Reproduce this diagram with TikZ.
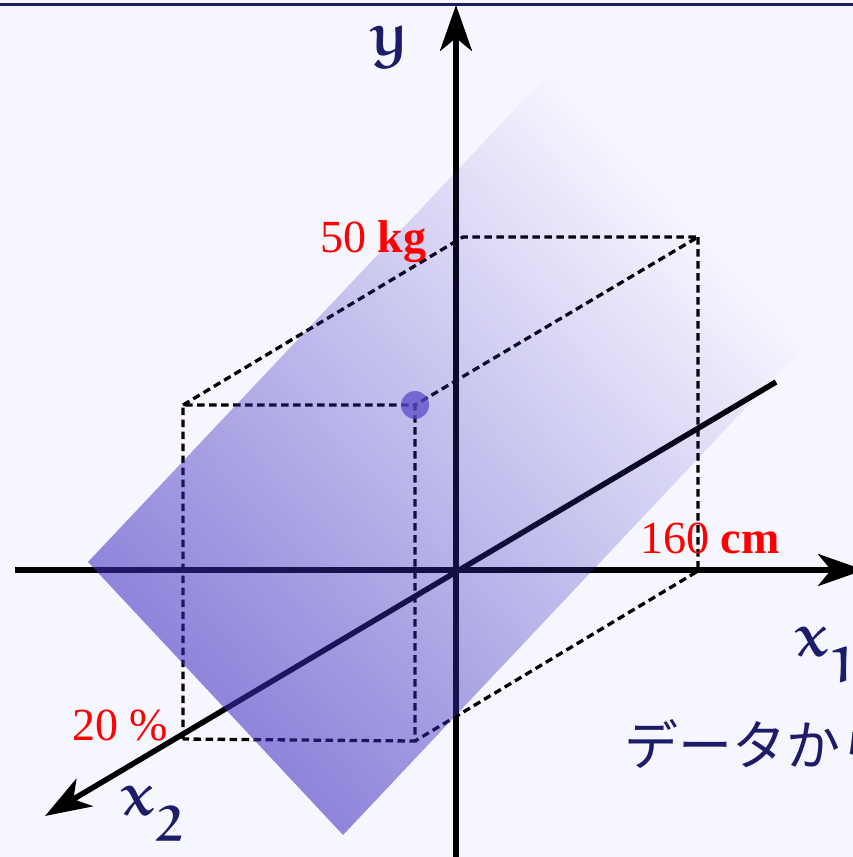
\documentclass[tikz,border=0pt]{standalone}
\usepackage[no-math]{fontspec}
\usetikzlibrary{arrows.meta,fadings}
\setmainfont{Liberation Serif}
\newfontfamily\jpfont{Noto Sans CJK JP}
\DeclareFontFamily{U}{myeur}{\skewchar\font'177}
\DeclareFontShape{U}{myeur}{b}{n}{<-> eurb10}{}
\DeclareMathAlphabet{\mathEu}{U}{myeur}{b}{n}
\DeclareMathSizes{60}{60}{50}{40}
\definecolor{bgcol}{RGB}{246,246,255}
\definecolor{navy}{RGB}{28,28,105}
\definecolor{topnavy}{RGB}{30,30,100}
\definecolor{planecol}{RGB}{60,45,190}
\definecolor{dotcol}{RGB}{90,75,200}
\tikzfading[name=planefade, left color=transparent!44, middle color=transparent!80, right color=transparent!100]
\begin{document}
\begin{tikzpicture}[x=1pt,y=-1pt,
  axisline/.style={line width=5.5pt,black,-{Stealth[length=46pt,width=32pt,inset=13pt]}},
  boxline/.style={line width=3.3pt,black,dash pattern=on 7.5pt off 4.5pt},
  redlab/.style={inner sep=0pt,text=red,font=\fontsize{46}{50}\selectfont},
  axislab/.style={inner sep=0pt,text=navy,font=\fontsize{60}{64}\selectfont},
  jplab/.style={inner sep=0pt,text=navy,font=\jpfont\fontsize{54}{58}\selectfont}]
\useasboundingbox (0,0) rectangle (853,857);
\clip (0,0) rectangle (853,857);
\fill[bgcol] (0,0) rectangle (853,857);
% top rule
\coordinate (tl) at (0,4.5);
\coordinate (tr) at (853,4.5);
\draw[topnavy,line width=2.5pt] (tl) -- (tr);
% dashed box
\coordinate (v1) at (183,405);
\coordinate (v2) at (415,405);
\coordinate (v3) at (183,739);
\coordinate (v4) at (415,741);
\coordinate (v5) at (463,237);
\coordinate (v6) at (698,237);
\coordinate (v7) at (698,571);
\draw[boxline] (v3) -- (v1) -- (v2) -- (v4) -- cycle;
\draw[boxline] (v1) -- (v5) -- (v6) -- (v2);
\draw[boxline] (v6) -- (v7) -- (v4);
% axes
\coordinate (o) at (456,570);
\coordinate (x1s) at (15,570);
\coordinate (x1e) at (864,570);
\coordinate (ys) at (456,857);
\coordinate (ye) at (456,5);
\coordinate (x2s) at (776,382);
\coordinate (x2e) at (45,816);
\draw[axisline] (x1s) -- (x1e);
\draw[axisline] (ys) -- (ye);
\draw[axisline] (x2s) -- (x2e);
% plane: corner A = (88,562); sides A->D = (462,-490), A->B = (255,273) in picture pixels
\coordinate (pA) at (88,562);
\begin{scope}[transform canvas={cm={4.62,4.90,2.55,-2.73,(pA)}}]
  \fill[planecol, path fading=planefade] (0pt,0pt) rectangle (100pt,100pt);
\end{scope}
% data point
\fill[dotcol, fill opacity=0.75] (v2) circle (14);
% labels
\node[redlab, anchor=base west] (l50) at (320,252) {50 \textbf{kg}};
\node[redlab, anchor=base west] (l160) at (640,553) {160 \textbf{cm}};
\node[redlab, anchor=base west] (l20) at (72,740) {20 \%};
\node[axislab, anchor=center] (ly) at (390,47) {$\mathEu{y}$};
\node[axislab, anchor=base west] (lx1) at (796,656) {$\mathEu{x}_{\mathEu{1}}$};
\node[axislab, anchor=base west] (lx2) at (122,815) {$\mathEu{x}_{\mathEu{2}}$};
\node[jplab, anchor=base west] (jt) at (624,765) {データから};
\end{tikzpicture}
\end{document}
